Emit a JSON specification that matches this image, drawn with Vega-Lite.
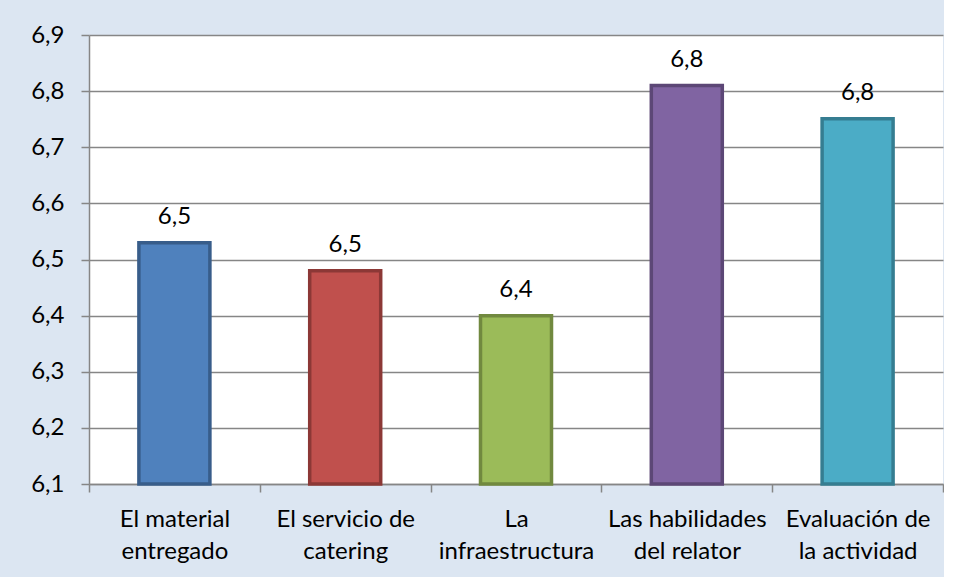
{
  "$schema": "https://vega.github.io/schema/vega-lite/v6.json",
  "width": 854,
  "height": 449,
  "autosize": {"type": "none"},
  "padding": {"left": 89, "top": 35, "right": 1, "bottom": 93},
  "background": "#dce6f2",
  "config": {
    "view": {"fill": "white", "stroke": null},
    "font": "Lato",
    "locale": {"number": {"decimal": ",", "thousands": ".", "grouping": [3], "currency": ["", " €"]}}
  },
  "data": {
    "values": [
      {"categoria": "El material\nentregado", "valor": 6.53, "orden": 1},
      {"categoria": "El servicio de\ncatering", "valor": 6.48, "orden": 2},
      {"categoria": "La\ninfraestructura", "valor": 6.40, "orden": 3},
      {"categoria": "Las habilidades\ndel relator", "valor": 6.81, "orden": 4},
      {"categoria": "Evaluación de\nla actividad", "valor": 6.751, "orden": 5}
    ]
  },
  "encoding": {
    "x": {
      "field": "categoria",
      "type": "nominal",
      "sort": {"field": "orden"},
      "scale": {"paddingInner": 0, "paddingOuter": 0},
      "axis": {
        "title": null,
        "labelAngle": 0,
        "labelExpr": "split(datum.label, '\\n')",
        "labelFontSize": 24,
        "labelColor": "#000000",
        "labelLineHeight": 32,
        "labelPadding": 15,
        "labelBaseline": "top",
        "tickBand": "extent",
        "tickSize": 8,
        "tickColor": "#868686",
        "tickWidth": 1.5,
        "domainColor": "#868686",
        "domainWidth": 1.5
      }
    }
  },
  "layer": [
    {
      "mark": {"type": "bar", "size": 71, "strokeWidth": 3.5},
      "encoding": {
        "y": {
          "field": "valor",
          "type": "quantitative",
          "scale": {"domain": [6.1, 6.9], "nice": false, "zero": false},
          "axis": {
            "title": null,
            "values": [6.1, 6.2, 6.3, 6.4, 6.5, 6.6, 6.7, 6.8, 6.9],
            "format": ".1f",
            "labelFontSize": 24,
            "labelColor": "#000000",
            "labelPadding": 17,
            "tickSize": 8,
            "tickColor": "#868686",
            "tickWidth": 1.5,
            "grid": true,
            "gridColor": "#868686",
            "gridWidth": 1.5,
            "domainColor": "#868686",
            "domainWidth": 1.5
          }
        },
        "y2": {"datum": 6.1},
        "fill": {
          "field": "categoria",
          "type": "nominal",
          "sort": {"field": "orden"},
          "scale": {"range": ["#4f81bd", "#c0504d", "#9bbb59", "#8064a2", "#4bacc6"]},
          "legend": null
        },
        "stroke": {
          "field": "categoria",
          "type": "nominal",
          "sort": {"field": "orden"},
          "scale": {"range": ["#385d8a", "#8c3836", "#71893f", "#5c4776", "#357d91"]},
          "legend": null
        }
      }
    },
    {
      "mark": {"type": "text", "baseline": "alphabetic", "dy": -19, "fontSize": 24, "color": "#000000"},
      "encoding": {
        "y": {"field": "valor", "type": "quantitative"},
        "text": {"field": "valor", "type": "quantitative", "format": ".1f"}
      }
    }
  ]
}
